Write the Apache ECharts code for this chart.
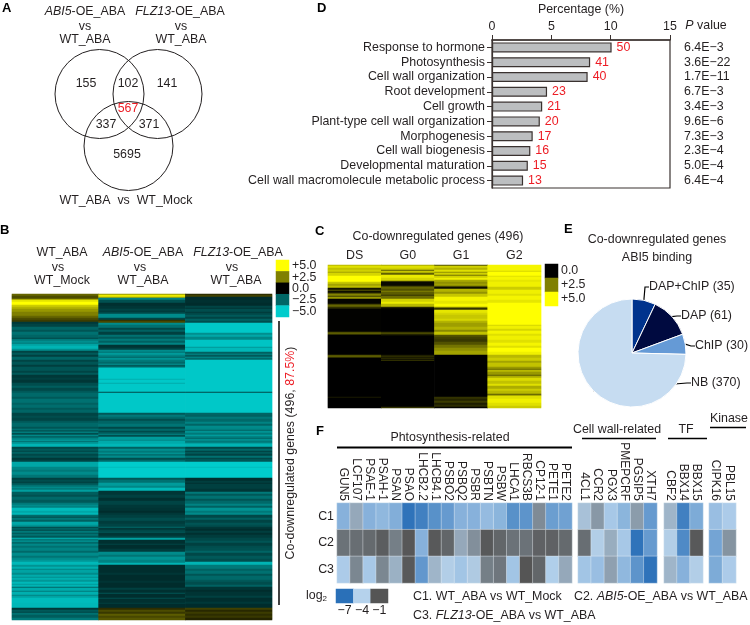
<!DOCTYPE html>
<html><head><meta charset="utf-8">
<style>html,body{margin:0;padding:0;background:#fff}#c{width:750px;height:625px}</style>
<script src="https://cdn.jsdelivr.net/npm/echarts@6/dist/echarts.min.js"></script>
</head><body><div id="c"></div>
<script>
// ---------- Panel A: Venn counts
const vennCounts = [155, 102, 141, 567, 337, 371, 5695];
// ---------- Panel D: GO terms
const goTerms = ['Response to hormone','Photosynthesis','Cell wall organization','Root development','Cell growth','Plant-type cell wall organization','Morphogenesis','Cell wall biogenesis','Developmental maturation','Cell wall macromolecule metabolic process'];
const goPercent = [10.08, 8.27, 8.06, 4.64, 4.23, 4.03, 3.43, 3.23, 3.02, 2.62];
const goCounts = [50, 41, 40, 23, 21, 20, 17, 16, 15, 13];
const goP = ['6.4E\u22123','3.6E\u221222','1.7E\u221211','6.7E\u22123','3.4E\u22123','9.6E\u22126','7.3E\u22123','2.3E\u22124','5.0E\u22124','6.4E\u22124'];
// ---------- Panel E: ABI5 binding
const pieNames = ['DAP+ChIP','DAP','ChIP','NB'];
const pieValues = [35, 61, 30, 370];
// ---------- Panel B heat map, [rows, log2FC] runs read top to bottom
const bCols = ['WT_ABA vs WT_Mock','ABI5-OE_ABA vs WT_ABA','FLZ13-OE_ABA vs WT_ABA'];
const bCol1 = [[2,2],[3,1.5],[1,3],[2,4.5],[3,5],[2,4],[2,3.5],[3,3],[4,2.5],[2,2],[2,1.5],[2,1.2],[2,-1.4],[3,-1.7],[3,-2.5],[2,-2.1],[3,-2.8],[3,-2.5],[1,-1.7],[2,-3],[2,-3.5],[1,-3],[2,-4],[3,-4.4],[2,-3.5],[2,-1.7],[2,-2.2],[2,-1.6],[3,-2.5],[2,-1.7],[3,-2.1],[2,-1.55],[4,-2.1],[2,-1.7],[2,-2.2],[3,-1.4],[2,-1.6],[3,-1.35],[3,-1.9],[2,-2.3],[3,-1.8],[2,-2.2],[4,-2.6],[2,-2.2],[4,-2.8],[2,-2.4],[3,-2.7],[2,-2.2],[3,-2.5],[3,-1.7],[2,-1.9],[3,-1.7],[2,-2.2],[4,-2.6],[2,-2.1],[1,-3],[2,-2.2],[1,-3.4],[2,-1.9],[1,-3.6],[2,-2.5],[2,-3.2],[1,-4],[1,-2.6],[2,-3.6],[3,-4.4],[2,-1.8],[2,-2.2],[1,-1.7],[2,-2.4],[2,-1.8],[2,-2.1],[2,-1.4],[2,-1.7],[5,-4.1],[3,-3.3],[2,-3],[3,-3.4],[3,-2.9],[2,-1.6],[2,-1.9],[1,-1.5],[2,-2.1],[2,-2.8],[1,-3.5],[2,-3],[2,-3.9],[3,-2.3],[2,-2],[3,-2.6],[3,-2.2],[2,-3],[1,-3.5],[2,-3.2],[3,-4.6],[2,-4.1],[2,-4.5],[2,-2.6],[1,-1.9],[2,-3],[2,-2.4],[3,-4.1],[2,-3.6],[1,-1.8],[2,-2.5],[1,-1.8],[2,-3],[1,-2.1],[2,-2.8],[2,-2.2],[1,-4.4],[2,-3],[1,-3.7],[2,-2.6],[2,-3.3],[2,-2.8],[3,-3.2],[2,-2.6],[3,-3.4],[2,-2.9],[2,-3.4],[2,-3.7],[3,-4.5],[2,-3.6],[2,-4.3],[1,-3.2],[3,-4],[2,-3.4],[2,-4.2],[1,-3.5],[2,-4.3],[2,-3.7],[2,-4.5],[1,-3.8],[2,-4.4],[1,-2.5],[3,-4.2],[1,-3],[3,-4.3],[1,-3.2],[2,-4],[5,-4.6],[5,-4.5],[2,-1.4],[2,-2.2],[1,-1.7],[2,-2.8],[3,-2.3],[2,-3]];
const bCol2 = [[1,3],[2,4.6],[1,3.4],[2,-3.2],[3,-2],[3,-1.2],[3,-1.35],[2,-1.7],[1,-1.35],[2,-1.8],[4,-3.4],[2,-1.7],[1,0.9],[2,1.4],[2,-3.4],[3,-2.8],[2,-1.8],[2,-2.4],[3,-1.6],[2,-2.8],[2,-2.2],[2,-3],[2,-2.4],[2,-3.2],[3,-1.3],[2,-1.7],[2,-3.4],[1,-2.8],[2,-3.8],[2,-3.2],[1,-2.4],[2,-3.6],[2,-3],[2,-2.6],[1,-3.6],[2,-2.2],[1,-3.3],[11,-4.9],[1,-4.3],[3,-4.9],[1,-4.2],[8,-4.9],[1,-1.8],[20,-4.9],[2,-2.2],[2,-3],[2,-2.6],[2,-1.9],[3,-2.5],[3,-2.9],[2,-1.8],[2,-2.6],[1,-1.7],[2,-2.2],[1,-3.3],[2,-1.9],[3,-3.8],[1,-3.3],[3,-4.2],[3,-4.5],[2,-2.4],[2,-3.5],[2,-3],[1,-3.8],[2,-2.8],[2,-3.4],[2,-1.9],[2,-2.6],[5,-5],[1,-4.6],[10,-5],[2,-2.1],[3,-2.8],[3,-3.8],[2,-3.3],[3,-4.5],[4,-1.35],[3,-1.6],[3,-1.2],[4,-1.7],[3,-1.4],[3,-1.3],[2,-1.1],[2,-1.4],[3,-1.6],[3,-1.9],[3,-1.5],[3,-1.7],[1,-2.6],[2,-1.4],[2,-1.8],[1,-2.2],[3,-1.35],[2,-1.7],[2,-4],[4,-1.2],[1,-1.7],[4,-1.15],[3,-1.5],[3,-3.4],[2,-2.9],[3,-3.6],[3,-3.2],[2,-4.4],[8,-1.15],[2,-1.35],[6,-1.1],[2,-1.3],[5,-1.1],[2,-1.6],[3,-1.2],[1,-2.1],[4,-1.15],[1,-1.9],[4,-1.2],[1,-1.55],[4,-1.1],[2,0.9],[2,1.5],[2,1.1],[2,1.8],[2,1.4],[2,1.7]];
const bCol3 = [[1,0.8],[2,1.3],[3,-1.1],[3,-1.2],[3,-1.1],[2,-1.7],[1,-1.3],[3,-1.9],[1,-1.4],[2,-1.8],[2,-2.2],[2,-1.7],[2,-2.4],[2,-1.9],[10,-4.9],[2,-3.5],[2,-4.1],[3,-3.3],[7,-4.8],[1,-3.7],[4,-4.5],[2,-2.4],[1,-3.3],[2,-2.2],[1,-3.4],[2,-2.6],[32,-4.9],[1,-1.8],[20,-4.9],[2,-2.5],[2,-2.4],[2,-3],[3,-2.6],[2,-3.2],[2,-2.5],[2,-3.4],[2,-3.3],[1,-2.4],[2,-3.6],[2,-3],[1,-4],[2,-3.2],[1,-2.4],[2,-3.5],[2,-3],[1,-3.8],[3,-4.4],[2,-1.8],[2,-2.6],[1,-1.55],[2,-2.2],[2,-1.7],[2,-2.8],[1,-1.7],[3,-2.1],[5,-5],[1,-4.6],[10,-5],[3,-1.15],[2,-1.55],[1,-1.2],[5,-1.6],[3,-1.35],[2,-3],[2,-2.2],[3,-2.8],[2,-2.1],[3,-2.6],[2,-3.2],[2,-2.4],[3,-3.6],[2,-3],[2,-3.4],[3,-1.8],[2,-2.4],[3,-1.7],[2,-2.1],[2,-1.9],[2,-1.4],[2,-1.15],[2,-1.55],[2,-1.2],[3,-1.5],[3,-1.8],[2,-2.1],[3,-1.6],[2,-1.9],[3,-2],[2,-2.5],[3,-1.8],[3,-2.2],[3,-1.9],[3,-4.4],[4,-3],[2,-2.4],[3,-2.8],[2,-2.1],[4,-2.6],[2,-2.2],[3,-1.9],[2,-2.4],[3,-1.35],[2,-1.1],[4,-1.3],[2,-1.6],[4,-1.15],[2,-1.4],[4,-1.1],[2,1.3],[2,0.8],[2,1.2],[2,0.9],[2,1.1],[2,0.7]];
const bLegend = ['+5.0','+2.5','0.0','\u22122.5','\u22125.0'];
const bLegendVals = [5, 2.5, 0, -2.5, -5];
// ---------- Panel C heat map, [rows, level] runs
const cCols = ['DS','G0','G1','G2'];
const cCol1 = [[1,3.6],[2,4.4],[2,3.8],[2,4.1],[1,3.2],[3,4.2],[6,5],[2,3.9],[2,3.2],[2,3.7],[2,0.4],[1,1.7],[2,0.3],[1,1.4],[2,2.6],[1,1.2],[2,3],[5,0.1],[1,1.2],[2,2],[1,1],[1,0.8],[23,0.05],[1,1.4],[1,2],[1,1.2],[20,0],[1,1.5],[1,2],[1,1.2],[39,0.02],[1,0.5],[10,0]];
const cCol2 = [[1,3.4],[2,4.4],[2,4.1],[1,1.8],[2,3.9],[2,1.9],[3,4.6],[3,4.2],[1,1.5],[4,0.2],[1,1.2],[2,2],[2,1.6],[1,2.5],[3,1.8],[1,1],[3,2.1],[3,4.1],[2,4.6],[3,3.6],[1,0.8],[1,0.2],[23,0],[1,1],[1,1.6],[1,0.8],[1,0.3],[19,0.02],[1,0.5],[1,1],[1,0.4],[1,1],[1,0.2],[1,1.2],[46,0],[1,1]];
const cCol3 = [[1,1.6],[2,4.1],[2,3.5],[2,4.4],[1,2.8],[2,4.1],[1,2.3],[2,4.1],[2,4.7],[2,3.3],[2,2.8],[2,3.1],[1,1.8],[2,0.3],[3,3.5],[2,2.9],[3,3.9],[4,4.8],[3,4.5],[3,4.9],[1,3],[2,1],[3,4.5],[2,4.2],[4,3.9],[2,4.2],[2,3.5],[4,3.1],[3,3.5],[2,2.7],[3,3.8],[2,1.6],[2,1.3],[3,1.1],[3,1.6],[3,2.3],[3,2.8],[4,3.2],[42,0],[2,1],[2,0.7],[2,1.2],[2,0.6],[2,0.9],[1,0.1]];
const cCol4 = [[6,4.8],[1,4.2],[4,5],[1,4.4],[3,4.8],[2,4.5],[5,4.7],[3,4],[4,4.7],[2,4.4],[4,4.8],[3,4.5],[9,5],[13,5],[1,4.2],[3,4.7],[2,4.2],[3,4.8],[2,4.4],[4,4.7],[3,4.4],[3,4.8],[2,4.4],[4,5],[3,4.7],[3,3.6],[3,4],[2,3.2],[4,3.8],[2,3],[1,2],[2,3.6],[3,3],[1,1.8],[2,3.4],[3,4.3],[3,3.8],[2,4.4],[3,3.4],[2,4],[3,3.6],[1,1.8],[1,3],[3,4.4],[4,4.7],[3,4.4],[2,4]];
const cLegend = ['0.0','+2.5','+5.0'];
const cLegendVals = [0, 2.5, 5];
// ---------- Panel F
const fRows = ['C1','C2','C3'];
const fGenes1 = ['GUN5','LCF107','PSAE-1','PSAH-1','PSAN','PSAO','LHCB2.2','LHCB4.1','PSBO2','PSBQ2','PSBR','PSBTN','PSBW','LHCA1','RBCS3B','CP12-1','PETE1','PETE2'];
const fC1a = [-5,-3,-5,-4.8,-5.1,-6.9,-6.5,-6,-5.7,-5,-5,-4.7,-4.9,-6,-5.9,-2.3,-5.6,-5.5];
const fC2a = [-1.7,-1.6,-1.5,-1.2,-2,-1.05,-5,-1.1,-1.4,-3,-2.4,-1.1,-1.4,-1.7,-1.7,-1.3,-1.3,-1.5];
const fC3a = [-4.2,-2.2,-4.3,-2.2,-3.2,-1.1,-5.8,-3.3,-3.9,-4.4,-3.8,-2,-1.8,-4.4,-1,-1.4,-4.1,-3];
const fGenes2 = ['4CL1','CCR2','PGX3','PMEPCRF','PGSIP5','XTH7'];
const fC1b = [-3.6,-2.6,-4.3,-4.9,-2.7,-5.7];
const fC2b = [-1.6,-3.9,-3.1,-4.3,-6.9,-5.7];
const fC3b = [-4.4,-4.6,-2.8,-4.8,-5.9,-6.9];
const fGenes3 = ['CBF2','BBX14','BBX15'];
const fC1c = [-3.3,-6.5,-5.2];
const fC2c = [-3.9,-6.2,-1.1];
const fC3c = [-3.3,-5,-3.9];
const fGenes4 = ['CIPK16','PBL15'];
const fC1d = [-4.6,-4.2];
const fC2d = [-5.4,-2.5];
const fC3d = [-5.2,-4.2];
const fLegend = ['\u22127','\u22124','\u22121'];
const fLegendVals = [-7,-4,-1];

const FF = '"Liberation Sans", Arial, sans-serif';
const INK = '#231f20';
const FS = 12.4;
const grid=[], xAxis=[], yAxis=[], series=[];
function addGrid(g){ grid.push(Object.assign({outerBoundsMode:'none',containLabel:false},g)); return grid.length-1; }
function addXY(gi,x,y){ x.gridIndex=gi; y.gridIndex=gi; xAxis.push(x); yAxis.push(y); return xAxis.length-1; }
function expand(runs){ const out=[]; runs.forEach(r=>{ for(let i=0;i<r[0];i++) out.push(r[1]); }); return out; }
function heatData(cols){ const d=[]; cols.forEach((col,x)=>col.forEach((v,y)=>d.push([x,y,v]))); return d; }
function hiddenCat(data,extra){ return Object.assign({type:'category',data,show:false,axisTick:{show:false},axisLine:{show:false},splitLine:{show:false}},extra||{}); }
function rng(n){ return Array.from({length:n},(_,i)=>String(i)); }

// ---- Panel A (Venn, one-to-one pixel axes)
const vennCircleLayout=[[99.5,94],[157.5,94],[128.5,146]];
const vennTextLayout=[[86,84],[128,84],[167,84],[128,109],[106,125],[149,125],[127,155]];
const gVenn=addGrid({left:0,top:0,width:270,height:215});
const axVenn=addXY(gVenn,{type:'value',min:0,max:270,show:false},{type:'value',min:0,max:215,inverse:true,show:false});
series.push({type:'scatter',xAxisIndex:axVenn,yAxisIndex:axVenn,silent:true,symbol:'circle',symbolSize:89,
  itemStyle:{color:'rgba(0,0,0,0)',borderColor:INK,borderWidth:1,opacity:1},data:vennCircleLayout});
series.push({type:'scatter',xAxisIndex:axVenn,yAxisIndex:axVenn,silent:true,symbolSize:1,itemStyle:{opacity:1,color:'rgba(0,0,0,0)'},
  data:vennCounts.map((v,i)=>({value:vennTextLayout[i],name:String(v),
    label:{show:true,position:'inside',formatter:String(v),color:v===567?'#ed1c24':INK,fontFamily:FF,fontSize:FS}}))});

// ---- Panel B heat map
const gB=addGrid({left:12,top:294,width:260,height:326});
const bRows=[expand(bCol1),expand(bCol2),expand(bCol3)];
const axB=addXY(gB,hiddenCat(bCols),hiddenCat(rng(bRows[0].length),{inverse:true}));
const sB=series.length;
series.push({type:'heatmap',xAxisIndex:axB,yAxisIndex:axB,silent:true,progressive:0,data:heatData(bRows)});
const gBL=addGrid({left:276,top:260,width:13,height:57});
const axBL=addXY(gBL,hiddenCat(['k']),{type:'category',data:bLegend,inverse:true,position:'right',axisLine:{show:false},axisTick:{show:false},axisLabel:{color:INK,fontFamily:FF,fontSize:FS,margin:3,interval:0}});
const sBL=series.length;
series.push({type:'heatmap',xAxisIndex:axBL,yAxisIndex:axBL,silent:true,data:bLegendVals.map((v,i)=>[0,i,v])});

// ---- Panel C heat map
const gC=addGrid({left:328,top:265,width:213,height:143});
const cRows=[expand(cCol1),expand(cCol2),expand(cCol3),expand(cCol4)];
const axC=addXY(gC,{type:'category',data:cCols,position:'top',axisLine:{show:false},axisTick:{show:false},axisLabel:{color:INK,fontFamily:FF,fontSize:FS,margin:3,interval:0}},hiddenCat(rng(cRows[0].length),{inverse:true}));
const sC=series.length;
series.push({type:'heatmap',xAxisIndex:axC,yAxisIndex:axC,silent:true,progressive:0,data:heatData(cRows)});
const gCL=addGrid({left:545,top:264,width:13,height:42});
const axCL=addXY(gCL,hiddenCat(['k']),{type:'category',data:cLegend,inverse:true,position:'right',axisLine:{show:false},axisTick:{show:false},axisLabel:{color:INK,fontFamily:FF,fontSize:FS,margin:3,interval:0}});
const sCL=series.length;
series.push({type:'heatmap',xAxisIndex:axCL,yAxisIndex:axCL,silent:true,data:cLegendVals.map((v,i)=>[0,i,v])});

// ---- Panel D bars
const gD=addGrid({left:492,top:40,width:178,height:148,show:true,borderColor:'#3a3230',borderWidth:1.2,backgroundColor:'transparent'});
xAxis.push({gridIndex:gD,type:'value',min:0,max:15,interval:5,position:'top',name:'Percentage (%)',nameLocation:'middle',nameGap:24,
  nameTextStyle:{color:INK,fontFamily:FF,fontSize:FS},
  axisLine:{show:true,lineStyle:{color:'#3a3230',width:1.6}},axisTick:{show:true,length:5,inside:false,lineStyle:{color:'#3a3230'}},splitLine:{show:false},
  axisLabel:{color:INK,fontFamily:FF,fontSize:FS,margin:7,showMinLabel:true,showMaxLabel:true}});
yAxis.push({gridIndex:gD,type:'category',data:goTerms,inverse:true,axisLine:{show:true,lineStyle:{color:'#3a3230',width:1.2}},axisTick:{show:true,length:5,alignWithLabel:true,lineStyle:{color:'#3a3230'}},
  axisLabel:{color:INK,fontFamily:FF,fontSize:FS,margin:7,interval:0}});
const axD=xAxis.length-1;
xAxis.push({gridIndex:gD,type:'value',min:0,max:15,show:false});
yAxis.push({gridIndex:gD,type:'category',data:goP,inverse:true,position:'right',axisLine:{show:false},axisTick:{show:false},axisLabel:{color:INK,fontFamily:FF,fontSize:FS,margin:14,interval:0}});
series.push({type:'bar',xAxisIndex:axD,yAxisIndex:axD,silent:true,barWidth:10,data:goPercent,
  itemStyle:{color:'#bcbec0',borderColor:'#3a3230',borderWidth:1.2},
  label:{show:true,position:'right',distance:5,color:'#ed1c24',fontFamily:FF,fontSize:FS,formatter:p=>String(goCounts[p.dataIndex])}});

// ---- Panel E pie
const pieColors=['#00338d','#000a40','#659ad6','#c6dcf1'];
const pieLabelPos=[[649,287],[681,316],[695,346],[691,383]];
series.push({type:'pie',silent:true,center:[632,353],radius:[0,54],startAngle:90,clockwise:true,animation:false,
  data:pieNames.map((n,i)=>({name:n,value:pieValues[i],itemStyle:{color:pieColors[i],borderColor:'#fff',borderWidth:1}})),
  label:{show:true,bleedMargin:0,overflow:'none',formatter:p=>p.name+' ('+p.value+')',color:INK,fontFamily:FF,fontSize:FS},
  labelLine:{show:true,length:6,length2:4,lineStyle:{color:'#000',width:1.2}},
  labelLayout:p=>({x:pieLabelPos[p.dataIndex][0],y:pieLabelPos[p.dataIndex][1],align:'left',verticalAlign:'middle'})});

// ---- Panel F heat maps
const sF=[];
function addF(genes,rows,left,width,first){
  const g=addGrid({left,top:503,width,height:80});
  const ax=addXY(g,{type:'category',data:genes,position:'top',axisLine:{show:false},axisTick:{show:false},axisLabel:{rotate:90,color:INK,fontFamily:FF,fontSize:12,margin:2,interval:0}},
    first?{type:'category',data:fRows,inverse:true,axisLine:{show:false},axisTick:{show:false},axisLabel:{color:INK,fontFamily:FF,fontSize:FS,margin:3}}:hiddenCat(fRows,{inverse:true}));
  const data=[]; rows.forEach((r,y)=>r.forEach((v,x)=>data.push([x,y,v])));
  sF.push(series.length);
  series.push({type:'heatmap',xAxisIndex:ax,yAxisIndex:ax,silent:true,data,itemStyle:{borderColor:'#eef3f8',borderWidth:0.4}});
}
addF(fGenes1,[fC1a,fC2a,fC3a],337,235,true);
addF(fGenes2,[fC1b,fC2b,fC3b],578,79,false);
addF(fGenes3,[fC1c,fC2c,fC3c],664,39,false);
addF(fGenes4,[fC1d,fC2d,fC3d],709,27,false);
const gFL=addGrid({left:336,top:589,width:52,height:14});
const axFL=addXY(gFL,{type:'category',data:fLegend,axisLine:{show:false},axisTick:{show:false},axisLabel:{color:INK,fontFamily:FF,fontSize:FS,margin:2,interval:0}},hiddenCat(['k']));
const sFL=series.length;
series.push({type:'heatmap',xAxisIndex:axFL,yAxisIndex:axFL,silent:true,data:fLegendVals.map((v,i)=>[i,0,v])});

// ---- text and rules
const t=(x,y,text,o)=>Object.assign({type:'text',x,y,silent:true,z:50,style:Object.assign({text,fill:INK,font:FS+'px '+FF,align:'center',verticalAlign:'middle',
  rich:{i:{fontStyle:'italic',fontSize:FS,fontFamily:FF,fill:INK},r:{fill:'#ed1c24',fontSize:FS,fontFamily:FF},n:{fontSize:FS,fontFamily:FF,fill:INK},s:{fontSize:8,fontFamily:FF,fill:INK,verticalAlign:'bottom',padding:[6,0,0,0]}}},o||{})},{});
const bold=(x,y,s)=>t(x,y,s,{font:'bold 13px '+FF,align:'left',fill:'#000'});
const rule=(x1,y,x2,w)=>({type:'line',silent:true,z:50,shape:{x1,y1:y,x2,y2:y},style:{stroke:'#000',lineWidth:w||1.5}});
const graphic=[
  bold(2,8,'A'),bold(0,230,'B'),bold(315,231,'C'),bold(317,8,'D'),bold(564,229,'E'),bold(316,431,'F'),
  t(85,12,'{i|ABI5}{n|-OE_ABA}'),t(85,27,'vs'),t(85,40,'WT_ABA'),
  t(180,12,'{i|FLZ13}{n|-OE_ABA}'),t(181,27,'vs'),t(181,40,'WT_ABA'),
  t(126,201,'WT_ABA  vs  WT_Mock'),
  t(62,253,'WT_ABA'),t(58,268,'vs'),t(62,281,'WT_Mock'),
  t(143,253,'{i|ABI5}{n|-OE_ABA}'),t(140,268,'vs'),t(143,281,'WT_ABA'),
  t(238,253,'{i|FLZ13}{n|-OE_ABA}'),t(232,268,'vs'),t(236,281,'WT_ABA'),
  {type:'line',silent:true,z:50,shape:{x1:279,y1:321,x2:279,y2:605},style:{stroke:'#000',lineWidth:1.5}},
  {type:'text',silent:true,z:50,x:291,y:453,rotation:Math.PI/2,style:{text:'{n|Co-downregulated genes (496, }{r|87.5%}{n|)}',align:'center',verticalAlign:'middle',font:FS+'px '+FF,
    rich:{n:{fontSize:FS,fontFamily:FF,fill:INK},r:{fontSize:FS,fontFamily:FF,fill:'#ed1c24'}}}},
  t(438,237,'Co-downregulated genes (496)'),
  t(706,26,'{i|P} {n|value}',{align:'center'}),
  t(657,240,'Co-downregulated genes'),t(657,258,'ABI5 binding'),
  t(450,438,'Phtosynthesis-related'),rule(337,447.5,572,2),
  t(617,430,'Cell wall-related'),rule(582,438.5,656,1.5),
  t(686,430,'TF'),rule(668,438.5,707,1.5),
  t(729,419,'Kinase'),rule(710,427.5,746,1.5),
  t(306,596,'{n|log}{s|2}',{align:'left'}),
  t(413,597,'C1. WT_ABA vs WT_Mock',{align:'left'}),
  t(574,597,'{n|C2. }{i|ABI5}{n|-OE_ABA vs WT_ABA}',{align:'left'}),
  t(413,616,'{n|C3. }{i|FLZ13}{n|-OE_ABA vs WT_ABA}',{align:'left'})
];

const chart=echarts.init(document.getElementById('c'),null,{renderer:'canvas'});
chart.setOption({animation:false,backgroundColor:'#fff',textStyle:{fontFamily:FF},grid,xAxis,yAxis,series,graphic,
  visualMap:[
    {show:false,type:'continuous',min:-5,max:5,seriesIndex:[sB,sBL],inRange:{color:['#00cccc','#000000','#ffff00']}},
    {show:false,type:'continuous',min:0,max:5,seriesIndex:[sC,sCL],inRange:{color:['#000000','#ffff00']}},
    {show:false,type:'continuous',min:-7,max:-1,seriesIndex:sF.concat([sFL]),inRange:{color:['#2a70b8','#b5d2ec','#555555']}}
  ]});
</script></body></html>
